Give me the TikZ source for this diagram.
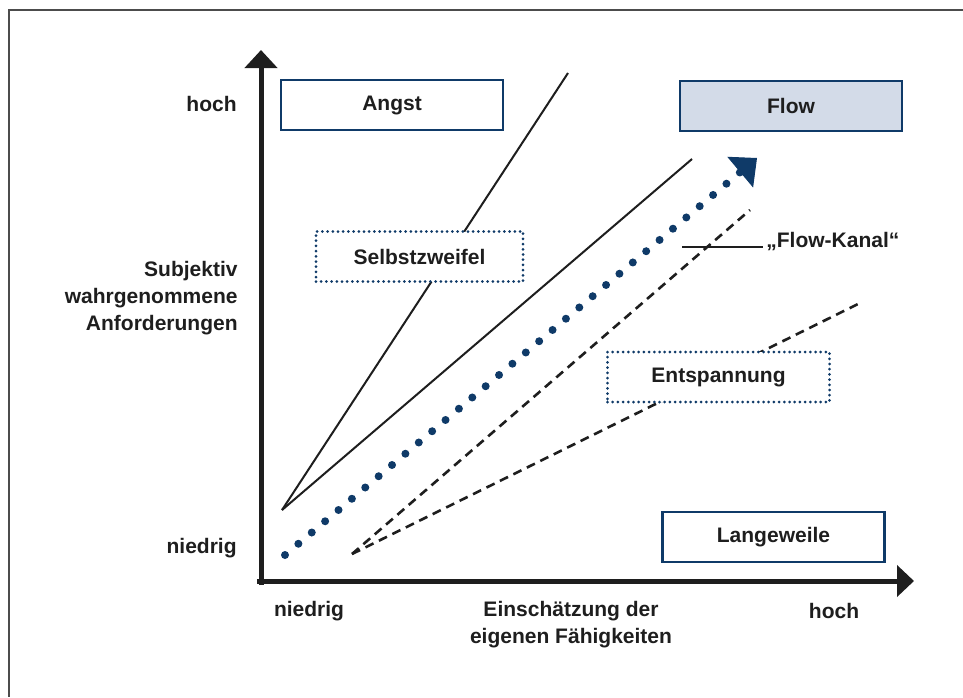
\documentclass[tikz,border=0pt]{standalone}
\usepackage{fontspec}
\setmainfont{Liberation Sans}
\usepackage{tikz}
\usetikzlibrary{arrows.meta}
\definecolor{navy}{HTML}{0F3A68}
\definecolor{flowfill}{HTML}{D3DBE8}
\definecolor{ink}{HTML}{1E1E1E}
\tikzset{
  zone/.style={draw=navy, line width=1.25pt, fill=white, text=ink, inner sep=0pt,
    minimum width=111pt, minimum height=25pt},
  dotzone/.style={zone, line width=1.5pt, line cap=round, dash pattern=on 0pt off 2.6pt},
  lbl/.style={text=ink, inner sep=0pt},
  diag/.style={ink, line width=1pt},
  dash diag/.style={ink, line width=1.3pt, dash pattern=on 4.5pt off 3pt}
}
\begin{document}
\begin{tikzpicture}[x=0.5pt, y=-0.5pt, font=\bfseries\fontsize{10.5}{13.5}\selectfont]
\useasboundingbox (0,0) rectangle (963,697);
\draw[black!70, line width=0.75pt] (963,10) -- (9,10) -- (9,697);

\coordinate (o) at (261,581);
\coordinate (ytop) at (261,50);
\coordinate (xend) at (914,581);
\draw[ink, line width=2.5pt, -{Triangle[width=16pt,length=9pt]}] ([yshift=-2pt]o) -- (ytop);
\draw[ink, line width=2.5pt, -{Triangle[width=15.5pt,length=8.5pt]}] ([xshift=-2pt]o) -- (xend);

\coordinate (s0) at (282,510);
\coordinate (s1) at (568,73);
\coordinate (s2) at (692,159);
\draw[diag] (s0) -- (s1);
\draw[diag] (s0) -- (s2);

\coordinate (d0) at (352,554);
\coordinate (d1) at (750,210);
\coordinate (d2) at (860,303);
\draw[dash diag] (d0) -- (d1);
\draw[dash diag] (d0) -- (d2);

\coordinate (f0) at (285,555);
\coordinate (f1) at (757,158);
\draw[navy, line width=4pt, line cap=round, dash pattern=on 0pt off 8.74pt,
  -{Triangle[width=20pt,length=11pt,line width=0.5pt]}] (f0) -- (f1);

\node[zone] (angst) at (392,105) {Angst};
\node[zone, fill=flowfill] (flow) at (791,106) {Flow};
\node[dotzone, minimum width=103.5pt] (zweifel) at (419.5,256.5) {Selbstzweifel};
\node[dotzone] (entsp) at (718.5,377) {Entspannung};
\node[zone] (langw) at (773.5,537) {Langeweile};

\node[lbl, anchor=base west] (kanal) at (766,247) {„Flow-Kanal“};
\coordinate (k0) at (682,247);
\draw[diag] (k0) -- ([xshift=-1.5pt]kanal.base west);

\node[lbl, anchor=east] (yhoch) at (237,104) {hoch};
\node[lbl, anchor=east] (yniedrig) at (237,548) {niedrig};
\node[lbl, anchor=east, align=right] (ytitle) at (238,298) {Subjektiv\\wahrgenommene\\Anforderungen};
\node[lbl] (xniedrig) at (309,611) {niedrig};
\node[lbl, align=center, anchor=north] (xtitle) at (571,601) {Einschätzung der\\eigenen Fähigkeiten};
\node[lbl] (xhoch) at (834,611) {hoch};
\end{tikzpicture}
\end{document}
